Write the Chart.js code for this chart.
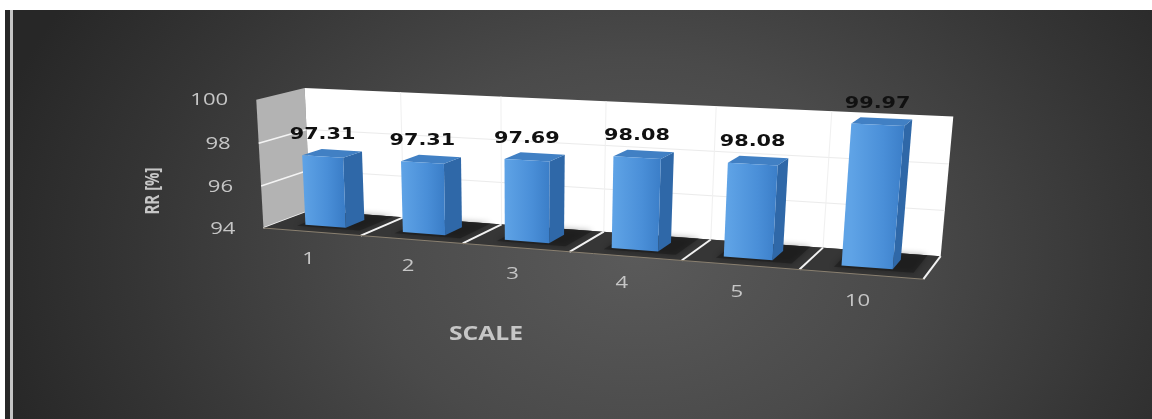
<!DOCTYPE html>
<html>
<head>
<meta charset="utf-8">
<script src="https://cdn.jsdelivr.net/npm/chart.js@4.4.0/dist/chart.umd.min.js"></script>
<style>
  html, body { margin: 0; padding: 0; background: #fff; }
  #wrap { position: relative; width: 1152px; height: 419px; overflow: hidden; }
  #panel { position: absolute; left: 5px; top: 10px; width: 1147px; height: 409px;
    background: radial-gradient(ellipse 58% 120% at 55% 60%, #5a5a5a 0%, #4a4a4a 40%, #353535 75%, #272727 100%); }
  #rule { position: absolute; left: 10px; top: 10px; width: 3px; height: 409px; background: #c4c4c4; }
  #chart { position: absolute; left: 0; top: 0; }
</style>
</head>
<body>
<div id="wrap">
  <div id="panel"></div>
  <div id="rule"></div>
  <canvas id="chart" width="1152" height="419"></canvas>
</div>
<script>
// データ
const categories = ['1', '2', '3', '4', '5', '10'];
const rrValues = [97.31, 97.31, 97.69, 98.08, 98.08, 99.97];
const yTicks = [94, 96, 98, 100];
const yTitle = 'RR [%]';
const xTitle = 'SCALE';

// 3D 枠の透視補正用の基準点 [u, v, w, 画面x, 画面y]
// u: 横軸 (0..1), v: 値軸 (0..1), w: 奥行き (0 手前, 1 奥)
const frameAnchors = [
    [0, 1, 1, 308, 88], [1, 1, 1, 953, 117], [0, 0, 1, 307, 212], [1, 0, 1, 942, 254],
    [0, 0, 0, 265, 227], [1, 0, 0, 923, 280], [0, 1, 0, 253, 99],
    [1 / 6, 0, 0, 363, 235], [2 / 6, 0, 0, 463, 243], [3 / 6, 0, 0, 570, 252],
    [4 / 6, 0, 0, 680, 262], [5 / 6, 0, 0, 800, 270],
    [1 / 6, 0, 1, 405, 218], [2 / 6, 0, 1, 500, 223], [3 / 6, 0, 1, 603, 232],
    [4 / 6, 0, 1, 712, 240], [5 / 6, 0, 1, 822, 247]
];
const BAR_W0 = 0.3;   // 棒の奥行き (手前)
const BAR_W1 = 0.72;  // 棒の奥行き (奥)
const TEXT_SX = 1.3;  // 元画像の横伸び

// 最小二乗で射影行列を求める
function fitCamera(pts) {
    const n = 11;
    const M = Array.from({ length: n }, () => new Array(n + 1).fill(0));
    pts.forEach(([u, v, w, X, Y]) => {
        const x = X / 1000, y = Y / 1000;
        const rows = [
            [[u, v, w, 1, 0, 0, 0, 0, -x * u, -x * v, -x * w], x],
            [[0, 0, 0, 0, u, v, w, 1, -y * u, -y * v, -y * w], y]
        ];
        rows.forEach(([r, b]) => {
            for (let i = 0; i < n; i++) {
                for (let j = 0; j < n; j++) M[i][j] += r[i] * r[j];
                M[i][n] += r[i] * b;
            }
        });
    });
    for (let c = 0; c < n; c++) {
        let p = c;
        for (let r = c + 1; r < n; r++) if (Math.abs(M[r][c]) > Math.abs(M[p][c])) p = r;
        [M[c], M[p]] = [M[p], M[c]];
        for (let r = 0; r < n; r++) {
            if (r === c) continue;
            const f = M[r][c] / M[c][c];
            for (let k = c; k <= n; k++) M[r][k] -= f * M[c][k];
        }
    }
    return M.map((row, i) => row[n] / row[i]);
}

const cam = fitCamera(frameAnchors);
function proj(u, v, w) {
    const d = cam[8] * u + cam[9] * v + cam[10] * w + 1;
    return {
        x: 1000 * (cam[0] * u + cam[1] * v + cam[2] * w + cam[3]) / d,
        y: 1000 * (cam[4] * u + cam[5] * v + cam[6] * w + cam[7]) / d
    };
}

function poly(ctx, pts) {
    ctx.beginPath();
    pts.forEach((p, i) => {
        const q = proj(p[0], p[1], p[2]);
        if (i === 0) ctx.moveTo(q.x, q.y); else ctx.lineTo(q.x, q.y);
    });
    ctx.closePath();
}

function line(ctx, a, b, color, width) {
    const p = proj(a[0], a[1], a[2]);
    const q = proj(b[0], b[1], b[2]);
    ctx.beginPath();
    ctx.moveTo(p.x, p.y);
    ctx.lineTo(q.x, q.y);
    ctx.strokeStyle = color;
    ctx.lineWidth = width;
    ctx.stroke();
}

function stretchedText(ctx, str, x, y, align, font, color, rotate) {
    ctx.save();
    ctx.translate(x, y);
    ctx.scale(TEXT_SX, 1);
    if (rotate) ctx.rotate(rotate);
    ctx.font = font;
    ctx.fillStyle = color;
    ctx.textAlign = align;
    ctx.textBaseline = 'middle';
    ctx.fillText(str, 0, 0);
    ctx.restore();
}

// 3D 描画プラグイン
const box3dPlugin = {
    id: 'box3d',
    afterDatasetsDraw(chart) {
        const ctx = chart.ctx;
        const area = chart.chartArea;
        const xs = chart.scales.x;
        const ys = chart.scales.y;
        const toU = px => (px - area.left) / (area.right - area.left);
        const toV = py => Math.max(0, (area.bottom - py) / (area.bottom - area.top));

        const centers = categories.map((_, i) => toU(xs.getPixelForValue(i)));
        const bounds = [0];
        for (let i = 0; i < centers.length - 1; i++) bounds.push((centers[i] + centers[i + 1]) / 2);
        bounds.push(1);
        const gridV = yTicks.map(t => toV(ys.getPixelForValue(t)));

        ctx.save();

        // 側面の壁
        poly(ctx, [[0, 0, 0], [0, 1, 0], [0, 1, 1], [0, 0, 1]]);
        ctx.fillStyle = '#b3b3b3';
        ctx.fill();
        gridV.forEach(v => {
            if (v > 0.001 && v < 0.999) line(ctx, [0, v, 0], [0, v, 1], '#f4f4f4', 1.5);
        });
        line(ctx, [0, 0, 0], [0, 0, 1], '#f4f4f4', 1.5);

        // 背面の壁
        poly(ctx, [[0, 0, 1], [1, 0, 1], [1, 1, 1], [0, 1, 1]]);
        ctx.fillStyle = '#ffffff';
        ctx.fill();
        gridV.forEach(v => {
            if (v > 0.001 && v < 0.999) line(ctx, [0, v, 1], [1, v, 1], '#ebebeb', 1);
        });
        bounds.slice(1, -1).forEach(u => line(ctx, [u, 0, 1], [u, 1, 1], '#f0f0f0', 1));

        // 床
        poly(ctx, [[0, 0, 0], [1, 0, 0], [1, 0, 1], [0, 0, 1]]);
        ctx.fillStyle = '#363636';
        ctx.fill();

        const meta = chart.getDatasetMeta(0);

        // 棒の影
        meta.data.forEach(bar => {
            const u0 = toU(bar.x - bar.width / 2);
            const u1 = toU(bar.x + bar.width / 2);
            ctx.save();
            poly(ctx, [[u0 - 0.008, 0, BAR_W0 - 0.08], [u1 + 0.03, 0, BAR_W0 - 0.08],
                       [u1 + 0.03, 0, 1], [u0 - 0.008, 0, 1]]);
            ctx.fillStyle = 'rgba(25,25,25,0.55)';
            ctx.shadowColor = 'rgba(0,0,0,0.6)';
            ctx.shadowBlur = 6;
            ctx.fill();
            ctx.restore();
        });

        // 床の線
        bounds.slice(1).forEach(u => line(ctx, [u, 0, 0], [u, 0, 1], '#f2f2f2', 2));
        line(ctx, [0, 0, 0], [1, 0, 0], '#8a8070', 1);

        // 棒
        meta.data.forEach(bar => {
            const u0 = toU(bar.x - bar.width / 2);
            const u1 = toU(bar.x + bar.width / 2);
            const vt = toV(bar.y);
            const vb = toV(bar.base);

            poly(ctx, [[u1, vb, BAR_W0], [u1, vb, BAR_W1], [u1, vt, BAR_W1], [u1, vt, BAR_W0]]);
            ctx.fillStyle = '#2f68a8';
            ctx.fill();

            poly(ctx, [[u0, vt, BAR_W0], [u1, vt, BAR_W0], [u1, vt, BAR_W1], [u0, vt, BAR_W1]]);
            ctx.fillStyle = '#4180c4';
            ctx.fill();

            const a = proj(u0, vt, BAR_W0);
            const b = proj(u1, vt, BAR_W0);
            const g = ctx.createLinearGradient(a.x, 0, b.x, 0);
            g.addColorStop(0, '#5fa3e6');
            g.addColorStop(0.6, '#4a8fd8');
            g.addColorStop(1, '#3b7ec8');
            poly(ctx, [[u0, vb, BAR_W0], [u1, vb, BAR_W0], [u1, vt, BAR_W0], [u0, vt, BAR_W0]]);
            ctx.fillStyle = g;
            ctx.fill();
        });

        // 値ラベル
        meta.data.forEach((bar, i) => {
            const uc = toU(bar.x);
            const vt = toV(bar.y);
            const front = proj(uc, vt, BAR_W0);
            const back = proj(uc, vt, BAR_W1);
            stretchedText(ctx, rrValues[i].toFixed(2), front.x, back.y - 15, 'center',
                'bold 16px "DejaVu Sans"', '#111111');
        });

        // 縦軸目盛り
        yTicks.forEach(t => {
            const p = proj(0, toV(ys.getPixelForValue(t)), 0);
            stretchedText(ctx, String(t), p.x - 28, p.y + 1, 'right', '17px "Open Sans"', '#c6c6c6');
        });

        // 横軸目盛り
        categories.forEach((c, i) => {
            const p = proj(centers[i], 0, 0);
            stretchedText(ctx, c, p.x - 3, p.y + 27, 'center', '17px "Open Sans"', '#c6c6c6');
        });

        // 軸タイトル
        stretchedText(ctx, yTitle, 153, 191, 'center', 'bold 15px "Open Sans"', '#c6c6c6', -Math.PI / 2);
        stretchedText(ctx, xTitle, 486, 335, 'center', 'bold 19px "Open Sans"', '#c6c6c6');

        ctx.restore();
    }
};

function initializeChart() {
    const canvas = document.getElementById('chart');
    new Chart(canvas, {
        type: 'bar',
        data: {
            labels: categories,
            datasets: [{
                label: 'RR',
                data: rrValues,
                base: yTicks[0],
                backgroundColor: 'rgba(0,0,0,0)',
                borderWidth: 0,
                barPercentage: 0.42,
                categoryPercentage: 1
            }]
        },
        options: {
            responsive: false,
            animation: false,
            devicePixelRatio: 1,
            layout: { padding: 0 },
            scales: {
                x: { display: false },
                y: { display: false, min: 94, max: 100, ticks: { stepSize: 2 } }
            },
            plugins: {
                legend: { display: false },
                tooltip: { enabled: false }
            }
        },
        plugins: [box3dPlugin]
    });
}

document.addEventListener('DOMContentLoaded', initializeChart);
</script>
</body>
</html>
